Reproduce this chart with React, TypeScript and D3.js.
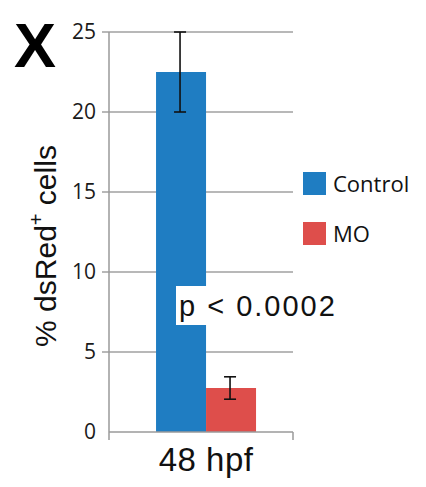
import { useEffect, useRef } from 'react';
import * as d3 from 'd3';

const categories = ['48 hpf'];
const seriesNames = ['Control', 'MO'];
const seriesColors = ['#1f7dc2', '#de4e4b'];
const means = [22.5, 2.75];
const errors = [2.5, 0.7];
const yTicks = [0, 5, 10, 15, 20, 25];
const pLabel = 'p < 0.0002';

export default function App() {
  const svgRef = useRef<SVGSVGElement>(null);

  useEffect(() => {
    if (!svgRef.current) return;
    const svg = d3.select(svgRef.current);
    svg.selectAll('*').remove();

    const margin = { top: 32, left: 109, right: 133, bottom: 55 };
    const W = 426;
    const H = 487;
    const width = W - margin.left - margin.right;
    const height = H - margin.top - margin.bottom;

    const g = svg.append('g').attr('transform', `translate(${margin.left},${margin.top})`);

    const y = d3.scaleLinear().domain([0, 25]).range([height, 0]);
    const x0 = d3
      .scaleBand()
      .domain(categories)
      .range([0, width])
      .paddingInner(0)
      .paddingOuter(0.42)
      .align(0.56);
    const x1 = d3.scaleBand().domain(seriesNames).range([0, x0.bandwidth()]);

    // gridlines + left tick marks
    g.append('g')
      .selectAll('line')
      .data(yTicks.filter((t) => t > 0))
      .join('line')
      .attr('x1', -7)
      .attr('x2', width)
      .attr('y1', (d) => y(d))
      .attr('y2', (d) => y(d))
      .attr('stroke', '#a0a0a0')
      .attr('stroke-width', 1.5);

    // tick labels
    g.append('g')
      .selectAll('text')
      .data(yTicks)
      .join('text')
      .attr('x', -13)
      .attr('y', (d) => y(d))
      .attr('dy', '0.35em')
      .attr('text-anchor', 'end')
      .attr('font-family', 'Open Sans, sans-serif')
      .attr('font-size', 21)
      .attr('fill', '#1a1a1a')
      .text((d) => d);

    // bars
    const bars = g.append('g');
    seriesNames.forEach((s, i) => {
      const bx = (x0(categories[0]) ?? 0) + (x1(s) ?? 0);
      bars
        .append('rect')
        .attr('x', bx)
        .attr('y', y(means[i]))
        .attr('width', x1.bandwidth())
        .attr('height', height - y(means[i]))
        .attr('fill', seriesColors[i]);
    });

    // p-value label box
    const pg = g.append('g');
    const pBox = pg.append('rect').attr('fill', '#fff');
    const pText = pg
      .append('text')
      .attr('x', 70)
      .attr('y', 284)
      .attr('font-family', 'Liberation Sans, Arial, sans-serif')
      .attr('font-size', 29)
      .attr('letter-spacing', 2)
      .attr('fill', '#111')
      .text(pLabel);
    const bb = (pText.node() as SVGTextElement).getBBox();
    pBox
      .attr('x', bb.x - 3)
      .attr('y', 254)
      .attr('width', bb.width + 3)
      .attr('height', 39);

    // error bars
    seriesNames.forEach((s, i) => {
      const cx = (x0(categories[0]) ?? 0) + (x1(s) ?? 0) + x1.bandwidth() / 2 - 1;
      const eg = g.append('g').attr('stroke', '#111').attr('stroke-width', 1.6);
      eg.append('line').attr('x1', cx).attr('x2', cx).attr('y1', y(means[i] + errors[i])).attr('y2', y(means[i] - errors[i]));
      [means[i] + errors[i], means[i] - errors[i]].forEach((v) => {
        eg.append('line').attr('x1', cx - 6).attr('x2', cx + 6).attr('y1', y(v)).attr('y2', y(v));
      });
    });

    // axes lines
    const axisColor = '#9a9a9a';
    g.append('line').attr('x1', 0).attr('x2', 0).attr('y1', 0).attr('y2', height + 8).attr('stroke', axisColor).attr('stroke-width', 1.5);
    g.append('line').attr('x1', 0).attr('x2', width).attr('y1', height).attr('y2', height).attr('stroke', axisColor).attr('stroke-width', 1.5);
    g.append('line').attr('x1', width).attr('x2', width).attr('y1', height).attr('y2', height + 8).attr('stroke', axisColor).attr('stroke-width', 1.5);

    // category label
    g.append('text')
      .attr('x', (x0(categories[0]) ?? 0) + x0.bandwidth() / 2)
      .attr('y', height + 39)
      .attr('text-anchor', 'middle')
      .attr('font-family', 'Liberation Sans, Arial, sans-serif')
      .attr('font-size', 33)
      .attr('letter-spacing', 0.5)
      .attr('fill', '#111')
      .text(categories[0]);

    // y-axis label
    const yl = svg
      .append('text')
      .attr('transform', `translate(56,246) rotate(-90)`)
      .attr('text-anchor', 'middle')
      .attr('font-family', 'Liberation Sans, Arial, sans-serif')
      .attr('font-size', 30)
      .attr('fill', '#111');
    yl.append('tspan').text('% dsRed');
    yl.append('tspan').attr('dy', -13).attr('font-size', 20).text('+');
    yl.append('tspan').attr('dy', 13).text(' cells');

    // panel letter
    svg
      .append('text')
      .attr('x', 14)
      .attr('y', 67)
      .attr('font-family', 'Liberation Sans, Arial, sans-serif')
      .attr('font-weight', 'bold')
      .attr('font-size', 63)
      .attr('fill', '#000')
      .text('X');

    // legend
    const lg = svg.append('g').attr('transform', 'translate(303,172)');
    seriesNames.forEach((s, i) => {
      lg.append('rect').attr('x', 0).attr('y', i * 50).attr('width', 23).attr('height', 23).attr('fill', seriesColors[i]);
      lg.append('text')
        .attr('x', 30)
        .attr('y', i * 50 + 12)
        .attr('dy', '0.35em')
        .attr('font-family', 'Open Sans, sans-serif')
        .attr('font-size', 22)
        .attr('fill', '#111')
        .text(s);
    });
  }, []);

  return (
    <div style={{ position: 'absolute', left: 0, top: 0 }}>
      <svg ref={svgRef} width={426} height={487} style={{ display: 'block', background: '#fff' }} />
    </div>
  );
}
